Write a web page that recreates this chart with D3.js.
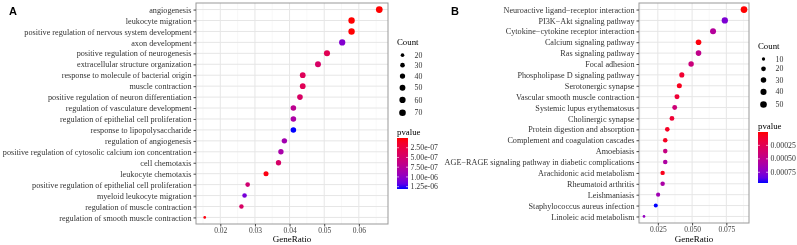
<!DOCTYPE html>
<html>
<head>
  <script src="https://d3js.org/d3.v7.min.js"></script>
  <style>
    body { margin: 0; background: #fff; }
    svg { will-change: transform; transform: translateZ(0); }
    text { font-family: "Liberation Serif", "DejaVu Serif", serif; }
  </style>
</head>
<body>
  <svg id="chart"></svg>
  <script>
    // Panel A - GO terms
    var termsA = ["angiogenesis", "leukocyte migration", "positive regulation of nervous system development",
      "axon development", "positive regulation of neurogenesis", "extracellular structure organization",
      "response to molecule of bacterial origin", "muscle contraction", "positive regulation of neuron differentiation",
      "regulation of vasculature development", "regulation of epithelial cell proliferation",
      "response to lipopolysaccharide", "regulation of angiogenesis",
      "positive regulation of cytosolic calcium ion concentration", "cell chemotaxis", "leukocyte chemotaxis",
      "positive regulation of epithelial cell proliferation", "myeloid leukocyte migration",
      "regulation of muscle contraction", "regulation of smooth muscle contraction"];
    var ratioA = [0.0659, 0.0579, 0.0579, 0.0552, 0.0508, 0.0482, 0.0438, 0.0438, 0.0430, 0.0411,
      0.0411, 0.0411, 0.0385, 0.0375, 0.0368, 0.0332, 0.0279, 0.0270, 0.0261, 0.0155];
    var countA = [72, 64, 64, 61, 56, 53, 48, 48, 47, 45, 45, 45, 42, 41, 40, 36, 30, 29, 28, 17];
    var pvalA = [1e-10, 2e-9, 5e-9, 1.05e-6, 3.5e-7, 4.5e-7, 3.8e-7, 3.6e-7, 4.4e-7, 7.0e-7,
      8.2e-7, 1.31e-6, 8.8e-7, 8.4e-7, 4.6e-7, 4e-8, 5.2e-7, 1.1e-6, 4.4e-7, 3e-8];
    var xTicksA = [0.02, 0.03, 0.04, 0.05, 0.06];
    var countBreaksA = [20, 30, 40, 50, 60, 70];
    var pBreaksA = [2.5e-7, 5.0e-7, 7.5e-7, 1.0e-6, 1.25e-6];

    // Panel B - KEGG pathways
    var termsB = ["Neuroactive ligand\u2212receptor interaction", "PI3K\u2212Akt signaling pathway",
      "Cytokine\u2212cytokine receptor interaction", "Calcium signaling pathway", "Ras signaling pathway",
      "Focal adhesion", "Phospholipase D signaling pathway", "Serotonergic synapse",
      "Vascular smooth muscle contraction", "Systemic lupus erythematosus", "Cholinergic synapse",
      "Protein digestion and absorption", "Complement and coagulation cascades", "Amoebiasis",
      "AGE\u2212RAGE signaling pathway in diabetic complications", "Arachidonic acid metabolism",
      "Rheumatoid arthritis", "Leishmaniasis", "Staphylococcus aureus infection", "Linoleic acid metabolism"];
    var ratioB = [0.0879, 0.0739, 0.0653, 0.0547, 0.0547, 0.0493, 0.0425, 0.0407, 0.0390, 0.0373,
      0.0353, 0.0319, 0.0304, 0.0304, 0.0304, 0.0285, 0.0285, 0.0252, 0.0235, 0.0149];
    var countB = [52, 44, 38, 32, 32, 29, 25, 24, 23, 22, 21, 19, 18, 18, 18, 17, 17, 15, 14, 9];
    var pvalB = [1e-6, 0.00078, 0.00055, 2e-5, 0.00048, 0.00042, 0.00012, 6e-5, 0.00014, 0.00040,
      0.00013, 8e-5, 7e-5, 0.00045, 0.00058, 5e-5, 0.00060, 0.00065, 0.00095, 0.00070];
    var xTicksB = [0.025, 0.050, 0.075];
    var countBreaksB = [10, 20, 30, 40, 50];
    var pBreaksB = [0.00025, 0.00050, 0.00075];

    var svg = d3.select("#chart").attr("width", 797).attr("height", 245);

    function sciFmt(v) {
      var s = v.toExponential(2);
      return s.replace(/e([+-])(\d)$/, "e$10$2");
    }

    function drawPanel(cfg, idx) {
      var data = cfg.terms.map(function(t, i) {
        return { term: t, ratio: cfg.ratio[i], count: cfg.count[i], p: cfg.pval[i] };
      });

      var xMin = d3.min(cfg.ratio), xMax = d3.max(cfg.ratio);
      var pad = (xMax - xMin) * 0.05;
      var x = d3.scaleLinear().domain([xMin - pad, xMax + pad]).range([cfg.left, cfg.right]);
      var y = d3.scalePoint().domain(cfg.terms).range([cfg.top, cfg.bottom]).padding(0.6);

      var cMin = d3.min(cfg.count), cMax = d3.max(cfg.count);
      var rScale = d3.scaleLinear().domain([0, 1]).range([1.35, 3.35]);
      function radius(c) { return rScale(Math.sqrt(Math.max(0, (c - cMin) / (cMax - cMin)))); }

      var pMin = d3.min(cfg.pval), pMax = d3.max(cfg.pval);
      var color = d3.scaleLinear().domain([pMin, pMax]).range(["red", "blue"]).interpolate(d3.interpolateLab);

      var g = svg.append("g");

      // panel letter
      g.append("text")
        .attr("x", cfg.letterX).attr("y", 15)
        .style("font-family", "'Liberation Sans', Arial, sans-serif")
        .style("font-weight", "bold").style("font-size", "11px")
        .text(cfg.letter);

      // grid
      var majStep = cfg.xTicks[1] - cfg.xTicks[0];
      var minor = [];
      for (var v = cfg.xTicks[0] - majStep / 2; v <= x.domain()[1]; v += majStep) {
        if (v >= x.domain()[0]) minor.push(v);
      }
      g.selectAll(".minor").data(minor).enter().append("line")
        .attr("x1", function(d) { return x(d); }).attr("x2", function(d) { return x(d); })
        .attr("y1", cfg.top).attr("y2", cfg.bottom)
        .attr("stroke", "#f4f4f4").attr("stroke-width", 0.6);
      g.selectAll(".vmajor").data(cfg.xTicks).enter().append("line")
        .attr("x1", function(d) { return x(d); }).attr("x2", function(d) { return x(d); })
        .attr("y1", cfg.top).attr("y2", cfg.bottom)
        .attr("stroke", "#e6e6e6").attr("stroke-width", 1);
      g.selectAll(".hmajor").data(cfg.terms).enter().append("line")
        .attr("x1", cfg.left).attr("x2", cfg.right)
        .attr("y1", function(d) { return y(d); }).attr("y2", function(d) { return y(d); })
        .attr("stroke", "#e6e6e6").attr("stroke-width", 1);

      // points
      g.selectAll(".dot").data(data).enter().append("circle")
        .attr("cx", function(d) { return x(d.ratio); })
        .attr("cy", function(d) { return y(d.term); })
        .attr("r", function(d) { return radius(d.count); })
        .attr("fill", function(d) { return color(d.p); });

      // border
      g.append("rect")
        .attr("x", cfg.left).attr("y", cfg.top)
        .attr("width", cfg.right - cfg.left).attr("height", cfg.bottom - cfg.top)
        .attr("fill", "none").attr("stroke", "#999").attr("stroke-width", 1);

      // axes
      var xAxis = g.append("g")
        .attr("transform", "translate(0," + cfg.bottom + ")")
        .call(d3.axisBottom(x).tickValues(cfg.xTicks).tickFormat(d3.format(cfg.xFmt)).tickSize(2.5).tickPadding(1.5));
      xAxis.select(".domain").remove();
      xAxis.selectAll("line").attr("stroke", "#444");
      xAxis.selectAll("text").style("font-size", "7.5px").attr("fill", "#444")
        .style("font-family", "'Liberation Serif', serif");

      var yAxis = g.append("g")
        .attr("transform", "translate(" + cfg.left + ",0)")
        .call(d3.axisLeft(y).tickSize(2.5).tickPadding(2));
      yAxis.select(".domain").remove();
      yAxis.selectAll("line").attr("stroke", "#444");
      yAxis.selectAll("text").style("font-size", "8.2px").attr("fill", "#333")
        .style("font-family", "'Liberation Serif', serif");

      g.append("text")
        .attr("x", (cfg.left + cfg.right) / 2).attr("y", 242)
        .attr("text-anchor", "middle").style("font-size", "9px")
        .text("GeneRatio");

      // size legend
      var lx = cfg.legendX;
      g.append("text").attr("x", lx).attr("y", cfg.countTitleY).style("font-size", "8.8px").text("Count");
      var cy = cfg.countTitleY + 4;
      cfg.countBreaks.forEach(function(c, i) {
        var r = radius(c);
        var h = 5 + 2.4 * r;
        cy += (i === 0 ? h / 2 + 1.5 : h / 2);
        g.append("circle").attr("cx", lx + 5.5).attr("cy", cy).attr("r", r).attr("fill", "black");
        g.append("text").attr("x", lx + 17.5).attr("y", cy + 2.6).style("font-size", "7.8px").attr("fill", "#333").text(c);
        cy += h / 2;
      });

      // colorbar
      g.append("text").attr("x", lx).attr("y", cfg.barTop - 3.5).style("font-size", "8.8px").text("pvalue");
      var gradId = "grad" + idx;
      var grad = svg.append("defs").append("linearGradient")
        .attr("id", gradId).attr("x1", 0).attr("x2", 0).attr("y1", 0).attr("y2", 1);
      d3.range(0, 1.0001, 0.1).forEach(function(t) {
        grad.append("stop").attr("offset", t).attr("stop-color", color(pMin + t * (pMax - pMin)));
      });
      var by = d3.scaleLinear().domain([pMin, pMax]).range([cfg.barTop, cfg.barBottom]);
      g.append("rect")
        .attr("x", lx).attr("y", cfg.barTop)
        .attr("width", cfg.barW).attr("height", cfg.barBottom - cfg.barTop)
        .attr("fill", "url(#" + gradId + ")");
      cfg.pBreaks.forEach(function(p) {
        g.append("line").attr("x1", lx).attr("x2", lx + 2).attr("y1", by(p)).attr("y2", by(p))
          .attr("stroke", "white").attr("stroke-width", 0.6);
        g.append("line").attr("x1", lx + cfg.barW - 2).attr("x2", lx + cfg.barW).attr("y1", by(p)).attr("y2", by(p))
          .attr("stroke", "white").attr("stroke-width", 0.6);
        g.append("text").attr("x", lx + cfg.barW + 2.5).attr("y", by(p) + 2.6)
          .style("font-size", "7.8px").attr("fill", "#333").text(cfg.pFmt(p));
      });
    }

    drawPanel({
      letter: "A", letterX: 9,
      terms: termsA, ratio: ratioA, count: countA, pval: pvalA,
      xTicks: xTicksA, xFmt: ".2f", countBreaks: countBreaksA, pBreaks: pBreaksA, pFmt: sciFmt,
      left: 196, right: 388, top: 3, bottom: 224,
      legendX: 397, countTitleY: 45, barTop: 138, barBottom: 189, barW: 11
    }, 0);

    drawPanel({
      letter: "B", letterX: 451,
      terms: termsB, ratio: ratioB, count: countB, pval: pvalB,
      xTicks: xTicksB, xFmt: ".3f", countBreaks: countBreaksB, pBreaks: pBreaksB, pFmt: d3.format(".5f"),
      left: 639, right: 749, top: 3, bottom: 223,
      legendX: 758, countTitleY: 49, barTop: 132, barBottom: 183, barW: 10
    }, 1);
  </script>
</body>
</html>
